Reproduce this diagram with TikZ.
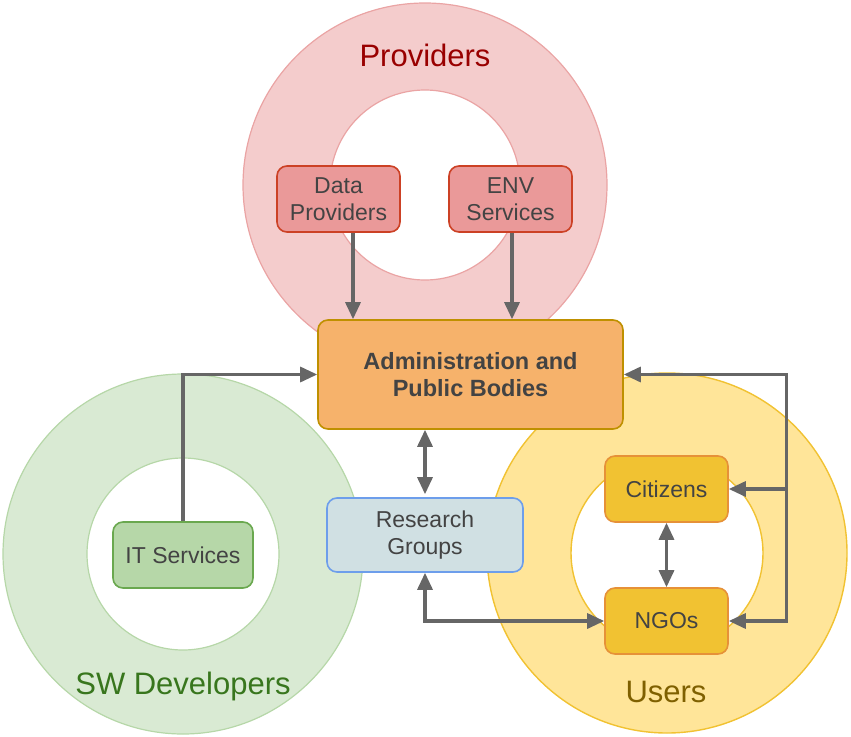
\documentclass[tikz,border=0pt]{standalone}
\usepackage{fontspec}
\setmainfont{Liberation Sans}
\usetikzlibrary{arrows.meta,calc}
\definecolor{txt}{HTML}{434343}
\definecolor{pfill}{HTML}{F4CCCC}
\definecolor{pedge}{HTML}{EAA4A4}
\definecolor{ufill}{HTML}{FFE599}
\definecolor{uedge}{HTML}{F1C232}
\definecolor{gfill}{HTML}{D9EAD3}
\definecolor{gedge}{HTML}{B6D7A8}
\definecolor{redbox}{HTML}{EA9999}
\definecolor{redline}{HTML}{CC4125}
\definecolor{orgbox}{HTML}{F6B26B}
\definecolor{orgline}{HTML}{BF9000}
\definecolor{bluebox}{HTML}{D0E0E3}
\definecolor{blueline}{HTML}{6D9EEB}
\definecolor{ylwbox}{HTML}{F1C232}
\definecolor{ylwline}{HTML}{E69138}
\definecolor{grnbox}{HTML}{B6D7A8}
\definecolor{grnline}{HTML}{6AA84F}
\definecolor{arrc}{HTML}{666666}
\begin{document}
\begin{tikzpicture}[x=1pt,y=-1pt,
  box/.style={rounded corners=10pt, line width=1.6pt, inner sep=0pt, align=center,
    text=txt, font=\fontsize{23}{27}\selectfont},
  ttl/.style={font=\fontsize{31}{36}\selectfont, inner sep=0pt},
  tip/.tip={Triangle[length=17pt,width=15pt]},
  arr/.style={draw=arrc, line width=3.2pt, -tip},
  darr/.style={draw=arrc, line width=3.2pt, tip-tip}
]
\useasboundingbox (0,0) rectangle (851,736);
% rings
\coordinate (pc) at (425,185);
\coordinate (uc) at (667,553);
\coordinate (gc) at (183,554);
\fill[pfill, even odd rule] (pc) circle[radius=182pt] (pc) circle[radius=95pt];
\draw[pedge, line width=1.2pt] (pc) circle[radius=182pt] (pc) circle[radius=95pt];
\fill[gfill, even odd rule] (gc) circle[radius=180pt] (gc) circle[radius=96pt];
\draw[gedge, line width=1.2pt] (gc) circle[radius=180pt] (gc) circle[radius=96pt];
\fill[ufill, even odd rule] (uc) circle[radius=180pt] (uc) circle[radius=96pt];
\draw[uedge, line width=1.4pt] (uc) circle[radius=180pt] (uc) circle[radius=96pt];
% titles
\node[ttl, text={rgb,255:red,153;green,0;blue,0}] (tp) at (425,55) {Providers};
\node[ttl, text={rgb,255:red,56;green,118;blue,29}] (tg) at (183,686) {SW Developers};
\node[ttl, text={rgb,255:red,127;green,96;blue,0}] (tu) at (666,692) {Users};
% boxes
\node[box, fill=redbox, draw=redline, minimum width=123pt, minimum height=66pt] (dp) at (338.5,199) {Data\\Providers};
\node[box, fill=redbox, draw=redline, minimum width=123pt, minimum height=66pt] (env) at (510.5,199) {ENV\\Services};
\node[box, fill=orgbox, draw=orgline, minimum width=305pt, minimum height=109pt, font=\fontsize{23.5}{27}\selectfont\bfseries] (adm) at (470.5,374.5) {Administration and\\Public Bodies};
\node[box, fill=bluebox, draw=blueline, minimum width=196pt, minimum height=74pt] (rg) at (425,535) {Research\\Groups};
\node[box, fill=ylwbox, draw=ylwline, minimum width=123pt, minimum height=66pt] (cit) at (666.5,489) {Citizens};
\node[box, fill=ylwbox, draw=ylwline, minimum width=123pt, minimum height=66pt] (ngo) at (666.5,621) {NGOs};
\node[box, fill=grnbox, draw=grnline, minimum width=140pt, minimum height=66pt] (it) at (183,555) {IT Services};
% connectors
\draw[arr] ([xshift=14.5pt]dp.south) -- ([xshift=14.5pt]dp.south |- adm.north);
\draw[arr] ([xshift=1.5pt]env.south) -- ([xshift=1.5pt]env.south |- adm.north);
\draw[arr] (it.north) |- (adm.west);
\draw[darr, shorten <=3pt] (rg.north) -- (rg.north |- adm.south);
\draw[darr] (rg.south) |- (ngo.west);
\draw[darr] (cit.south) -- (ngo.north);
\draw[darr] (adm.east) -| ([xshift=58pt]ngo.east) -- (ngo.east);
\coordinate (br) at ([xshift=58pt]cit.east);
\draw[arr] (br) -- (cit.east);
\end{tikzpicture}
\end{document}
